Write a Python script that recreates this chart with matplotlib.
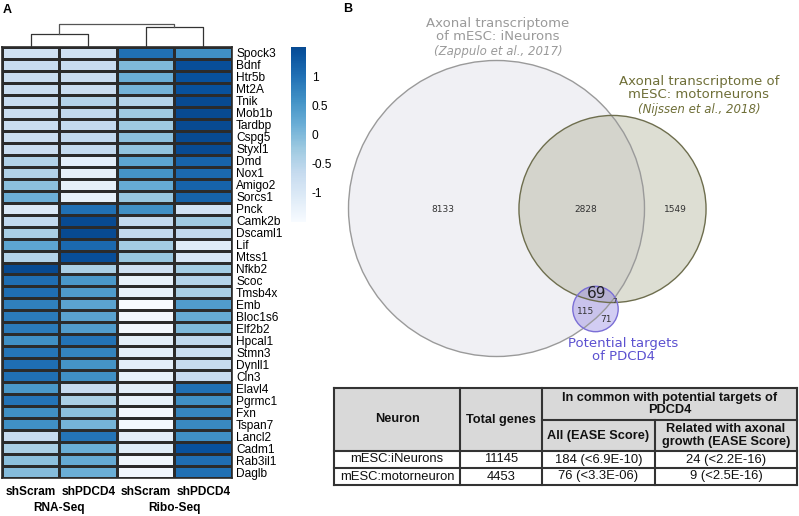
import numpy as np
import matplotlib
matplotlib.use('Agg')
import matplotlib.pyplot as plt
import matplotlib.patches as mpatches
from matplotlib.colors import LinearSegmentedColormap, Normalize, to_rgba
from matplotlib.cm import ScalarMappable

# ---------------- data ----------------
genes = ['Spock3', 'Bdnf', 'Htr5b', 'Mt2A', 'Tnik', 'Mob1b', 'Tardbp', 'Cspg5',
         'Styxl1', 'Dmd', 'Nox1', 'Amigo2', 'Sorcs1', 'Pnck', 'Camk2b', 'Dscaml1',
         'Lif', 'Mtss1', 'Nfkb2', 'Scoc', 'Tmsb4x', 'Emb', 'Bloc1s6', 'Elf2b2',
         'Hpcal1', 'Stmn3', 'Dynll1', 'Cln3', 'Elavl4', 'Pgrmc1', 'Fxn', 'Tspan7',
         'Lancl2', 'Cadm1', 'Rab3il1', 'Daglb']
samples = ['shScram', 'shPDCD4', 'shScram', 'shPDCD4']
assays = ['RNA-Seq', 'Ribo-Seq']

rna_scram = [-0.83, -0.7, -0.72, -0.72, -0.7, -0.72, -0.72, -0.75, -0.72, -0.45,
             -0.45, -0.1, 0.15, -1.0, -0.62, -0.37, 0.3, -0.47, 1.5, 1.03,
             1.03, 0.8, 0.87, 0.87, 0.6, 0.93, 1.03, 1.0, 0.5, 0.95,
             0.6, 0.6, -0.67, -0.37, -0.1, -0.05]
rna_pdcd4 = [-0.83, -0.7, -0.72, -0.72, -0.47, -0.62, -0.65, -0.62, -0.65, -1.17,
             -1.2, -1.2, -1.2, 1.0, 1.5, 1.5, 1.1, 1.45, -0.37, 0.5,
             0.45, 0.33, 0.35, 0.43, 0.97, 0.75, 0.55, 0.6, -0.67, -0.37,
             -0.1, 0.08, 0.95, 0.17, 0.23, 0.17]
ribo_scram = [1.0, 0.0, 0.17, 0.1, -0.47, -0.25, -0.25, -0.1, -0.13, 0.3,
              0.55, 0.2, -0.2, 0.6, -0.62, -0.62, -0.3, -0.2, -0.8, -1.23,
              -1.23, -1.5, -1.4, -1.4, -1.15, -1.15, -1.17, -1.23, -1.17, -1.23,
              -1.42, -1.42, -1.17, -1.1, -1.35, -1.38]
ribo_pdcd4 = [0.6, 1.45, 1.4, 1.4, 1.5, 1.5, 1.5, 1.5, 1.48, 1.15,
              1.1, 1.17, 1.17, -0.85, -0.27, -0.62, -1.1, -0.95, -0.3, -0.47,
              -0.37, 0.43, 0.2, 0.0, -0.6, -0.75, -0.67, -0.67, 1.0, 0.6,
              0.73, 0.7, 0.6, 1.4, 1.03, 1.0]
# column dendrogram merge heights: (RNA pair, Ribo pair, root)
dendro_heights = [0.48, 0.74, 0.86]
cbar_ticks = [1, 0.5, 0, -0.5, -1]

# Venn region counts
ineurons_only = 8133
ineurons_motor = 2828
motor_only = 1549
targets_ineurons = 115
targets_all = 69
targets_motor = 7
targets_only = 71

# table
table_header = ['Neuron', 'Total genes', 'In common with potential targets of\nPDCD4',
                'All (EASE Score)', 'Related with axonal\ngrowth (EASE Score)']
neuron_names = ['mESC:iNeurons', 'mESC:motorneuron']
total_genes = [11145, 4453]
common_all = ['184 (<6.9E-10)', '76 (<3.3E-06)']
common_axonal = ['24 (<2.2E-16)', '9 (<2.5E-16)']

W, H = 799, 516
fig = plt.figure(figsize=(W / 100, H / 100), dpi=100)


def box(x0, y0, x1, y1):
    return fig.add_axes([x0 / W, 1 - y1 / H, (x1 - x0) / W, (y1 - y0) / H])


hfont = 'Liberation Sans'
cmap = LinearSegmentedColormap.from_list('blues09', plt.cm.Blues(np.linspace(0, 0.9, 256)))
norm = Normalize(-1.5, 1.5)

# ---------------- heatmap ----------------
data = np.column_stack([rna_scram, rna_pdcd4, ribo_scram, ribo_pdcd4])
hm = box(2, 47, 232, 478)
hm.pcolormesh(data, cmap=cmap, norm=norm, edgecolors='#2b2b2b', linewidth=0.9)
hm.set_xlim(0, 4)
hm.set_ylim(len(genes), 0)
for s in hm.spines.values():
    s.set_color('#2b2b2b')
    s.set_linewidth(1.2)
hm.yaxis.tick_right()
hm.set_yticks(np.arange(len(genes)) + 0.5)
hm.set_yticklabels(genes, fontsize=8.6, family=hfont)
hm.set_xticks(np.arange(4) + 0.5)
hm.set_xticklabels(samples, fontsize=8.6, family=hfont, fontweight='bold')
hm.tick_params(length=0, axis='y', pad=3)
hm.tick_params(length=0, axis='x', pad=6)
for i, a in enumerate(assays):
    hm.text(2 * i + 1, len(genes) + 2.5, a, ha='center', va='center',
            fontsize=8.6, family=hfont, fontweight='bold')

# dendrogram
dd = box(2, 20, 232, 47)
dd.set_xlim(0, 4)
dd.set_ylim(0, 1)
dd.axis('off')
hl, hr, hroot = dendro_heights
dd.plot([0.5, 0.5, 1.5, 1.5], [0, hl, hl, 0], color='#333', lw=0.9)
dd.plot([2.5, 2.5, 3.5, 3.5], [0, hr, hr, 0], color='#333', lw=0.9)
dd.plot([1, 1, 3, 3], [hl, hroot, hroot, hr], color='#555', lw=0.9)

# colorbar
cax = box(291, 47, 306, 222)
cb = fig.colorbar(ScalarMappable(norm=norm, cmap=cmap), cax=cax, ticks=cbar_ticks)
cb.outline.set_visible(False)
cb.set_ticklabels([f'{t:g}' for t in cbar_ticks])
cax.tick_params(length=0, labelsize=8.6, pad=4)
for lab in cax.get_yticklabels():
    lab.set_family(hfont)

# ---------------- overlay: Venn + table ----------------
ov = fig.add_axes([0, 0, 1, 1])
ov.set_xlim(0, W)
ov.set_ylim(H, 0)
ov.axis('off')

ov.text(3, 10, 'A', fontsize=9, fontweight='bold', family=hfont, va='center')
ov.text(343, 9, 'B', fontsize=9, fontweight='bold', family=hfont, va='center')

n_ineurons = ineurons_only + ineurons_motor + targets_ineurons + targets_all
n_motor = ineurons_motor + motor_only + targets_all + targets_motor
n_targets = targets_ineurons + targets_all + targets_motor + targets_only
k = 148 / np.sqrt(n_ineurons)
c_in, c_mo, c_pd = (496.5, 208.5), (612.5, 209), (595.5, 309)
r_in, r_mo, r_pd = k * np.sqrt(n_ineurons), k * np.sqrt(n_motor), k * np.sqrt(n_targets)

ov.add_patch(mpatches.Circle(c_in, r_in, fc='#f0f0f4', ec='none'))
ov.add_patch(mpatches.Circle(c_mo, r_mo, fc=to_rgba('#a0a282', 0.35), ec='none'))
ov.add_patch(mpatches.Circle(c_pd, r_pd, fc=to_rgba('#8a7ce0', 0.38), ec='none'))
ov.add_patch(mpatches.Circle(c_in, r_in, fc='none', ec='#9a9a9a', lw=1))
ov.add_patch(mpatches.Circle(c_mo, r_mo, fc='none', ec='#6e6e4e', lw=1))
ov.add_patch(mpatches.Circle(c_pd, r_pd, fc='none', ec='#7b6fd6', lw=1))

vf = 'DejaVu Sans'
num_kw = dict(ha='center', va='center', family=vf, color='#333333', fontsize=6.5)
ov.text(443, 209, str(ineurons_only), **num_kw)
ov.text(586, 209, str(ineurons_motor), **num_kw)
ov.text(675, 209, str(motor_only), **num_kw)
ov.text(586, 311, str(targets_ineurons), **num_kw)
ov.text(606, 320, str(targets_only), **num_kw)
ov.text(615, 301, str(targets_motor), ha='center', va='center', family=vf,
        color='#333333', fontsize=5)
ov.text(597, 294, str(targets_all), ha='center', va='center', family=vf,
        color='#222222', fontsize=11)

ov.text(498, 30, 'Axonal transcriptome\nof mESC: iNeurons', ha='center', va='center',
        family=vf, color='#9a9a9a', fontsize=9.5, linespacing=1.05)
ov.text(498, 52, '(Zappulo et al., 2017)', ha='center', va='center', family=vf,
        color='#9a9a9a', fontsize=8.5, style='italic')
ov.text(699, 88, 'Axonal transcriptome of\nmESC: motorneurons', ha='center', va='center',
        family=vf, color='#6f6f38', fontsize=9.5, linespacing=1.05)
ov.text(699, 110, '(Nijssen et al., 2018)', ha='center', va='center', family=vf,
        color='#6f6f38', fontsize=8.5, style='italic')
ov.text(623, 350, 'Potential targets\nof PDCD4', ha='center', va='center',
        family=vf, color='#5b50d0', fontsize=9.5, linespacing=1.0)

# table
xs = [334, 460, 542, 655, 797]
ys = [388, 420, 451, 468, 485]
ov.add_patch(mpatches.Rectangle((xs[0], ys[0]), xs[-1] - xs[0], ys[2] - ys[0],
                                fc='#d9d9d9', ec='none'))
lc = '#333333'
for x in xs:
    ov.plot([x, x], [ys[0], ys[-1]] if x in (xs[0], xs[1], xs[2], xs[-1]) else [ys[1], ys[-1]],
            color=lc, lw=1.5)
for y in ys:
    if y == ys[1]:
        ov.plot([xs[2], xs[-1]], [y, y], color=lc, lw=1.5)
    else:
        ov.plot([xs[0], xs[-1]], [y, y], color=lc, lw=1.5)

hk = dict(ha='center', va='center', family=hfont, fontsize=9.2, fontweight='bold',
          color='#111111', linespacing=1.1)
ov.text((xs[0] + xs[1]) / 2, (ys[0] + ys[2]) / 2, table_header[0], **hk)
ov.text((xs[1] + xs[2]) / 2, (ys[0] + ys[2]) / 2, table_header[1], **hk)
ov.text((xs[2] + xs[4]) / 2, (ys[0] + ys[1]) / 2, table_header[2], **hk)
ov.text((xs[2] + xs[3]) / 2, (ys[1] + ys[2]) / 2, table_header[3], **hk)
ov.text((xs[3] + xs[4]) / 2, (ys[1] + ys[2]) / 2, table_header[4], **hk)

bk = dict(ha='center', va='center', family=hfont, fontsize=9.4, color='#111111')
for i in range(len(neuron_names)):
    yc = (ys[2 + i] + ys[3 + i]) / 2
    ov.text((xs[0] + xs[1]) / 2, yc, neuron_names[i], **bk)
    ov.text((xs[1] + xs[2]) / 2, yc, str(total_genes[i]), **bk)
    ov.text((xs[2] + xs[3]) / 2, yc, common_all[i], **bk)
    ov.text((xs[3] + xs[4]) / 2, yc, common_axonal[i], **bk)

fig.savefig('out.png', dpi=100)
